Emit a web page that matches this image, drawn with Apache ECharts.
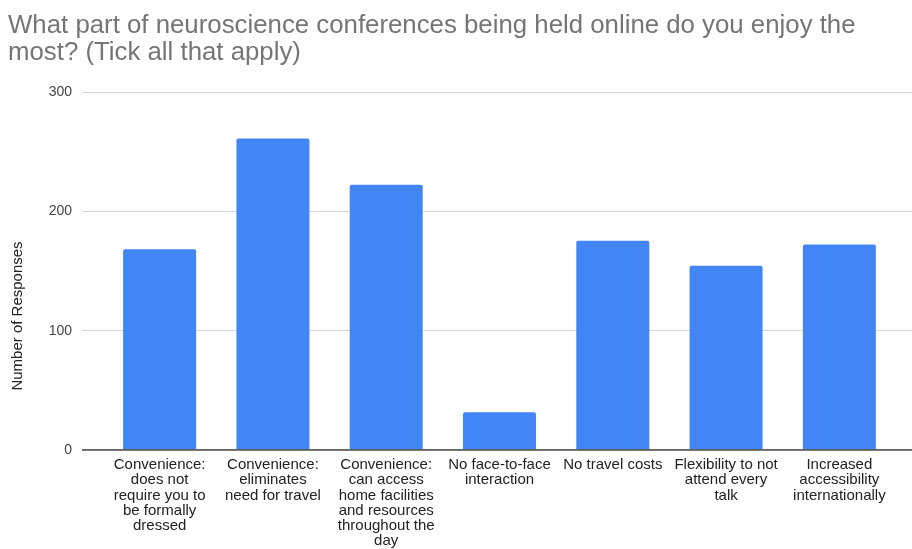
<!DOCTYPE html>
<html>
<head>
<meta charset="utf-8">
<script src="https://cdn.jsdelivr.net/npm/echarts@6/dist/echarts.min.js"></script>
<style>
  html, body { margin: 0; padding: 0; background: #fff; }
  #chart { width: 912px; height: 549px; }
</style>
</head>
<body>
<div id="chart"></div>
<script>
// Survey answers: what respondents enjoy most about online neuroscience conferences
const categories = [
  'Convenience:\ndoes not\nrequire you to\nbe formally\ndressed',
  'Convenience:\neliminates\nneed for travel',
  'Convenience:\ncan access\nhome facilities\nand resources\nthroughout the\nday',
  'No face-to-face\ninteraction',
  'No travel costs',
  'Flexibility to not\nattend every\ntalk',
  'Increased\naccessibility\ninternationally'
];
const responses = [168, 261, 222, 31, 175, 154, 172];
const yTicks = { min: 0, max: 300, interval: 100 };

const titleText = 'What part of neuroscience conferences being held online do you enjoy the\nmost? (Tick all that apply)';
const yAxisTitle = 'Number of Responses';

const FONT = '"Liberation Sans", Arial, Helvetica, sans-serif';
const PLOT_TOP = 92, PLOT_BOTTOM = 99;

const chart = echarts.init(document.getElementById('chart'), null, { renderer: 'canvas' });
chart.setOption({
  backgroundColor: '#ffffff',
  animation: false,
  textStyle: { fontFamily: FONT },
  title: {
    text: titleText,
    left: 3,
    top: 7,
    textStyle: { fontFamily: FONT, fontSize: 25.8, fontWeight: 'normal', color: '#757575', lineHeight: 27 }
  },
  grid: [
    // bars
    { left: 103, right: 16, top: PLOT_TOP, bottom: PLOT_BOTTOM },
    // full-width gridlines and value labels
    { left: 82, right: 0, top: PLOT_TOP, bottom: PLOT_BOTTOM }
  ],
  xAxis: [
    {
      type: 'category',
      gridIndex: 0,
      data: categories,
      axisLine: { show: false },
      axisTick: { show: false },
      axisLabel: {
        interval: 0,
        margin: 8,
        fontFamily: FONT,
        fontSize: 15,
        lineHeight: 15.3,
        color: '#222222',
        align: 'center',
        verticalAlign: 'top'
      }
    },
    {
      type: 'value',
      gridIndex: 1,
      min: 0,
      max: 1,
      show: false
    }
  ],
  yAxis: [
    {
      type: 'value',
      gridIndex: 0,
      min: yTicks.min,
      max: yTicks.max,
      interval: yTicks.interval,
      show: false
    },
    {
      type: 'value',
      gridIndex: 1,
      min: yTicks.min,
      max: yTicks.max,
      interval: yTicks.interval,
      axisLine: { show: false },
      axisTick: { show: false },
      axisLabel: { fontFamily: FONT, fontSize: 14, color: '#444444', margin: 10 },
      splitLine: { show: true, lineStyle: { color: '#d6d6d6', width: 1 } }
    }
  ],
  graphic: [
    {
      type: 'text',
      x: 18,
      y: 316,
      rotation: Math.PI / 2,
      style: {
        text: yAxisTitle,
        font: '15px ' + FONT,
        fill: '#222222',
        align: 'center',
        verticalAlign: 'middle'
      }
    }
  ],
  series: [
    {
      type: 'bar',
      xAxisIndex: 0,
      yAxisIndex: 0,
      data: responses,
      barWidth: 73,
      itemStyle: { color: '#4285f4', borderRadius: [2, 2, 0, 0] },
      z: 3
    },
    {
      // zero baseline across the whole plot width
      type: 'line',
      xAxisIndex: 1,
      yAxisIndex: 1,
      data: [[0, 0], [1, 0]],
      symbol: 'none',
      lineStyle: { color: '#333333', width: 1.5 },
      z: 4,
      silent: true
    }
  ]
});
</script>
</body>
</html>
